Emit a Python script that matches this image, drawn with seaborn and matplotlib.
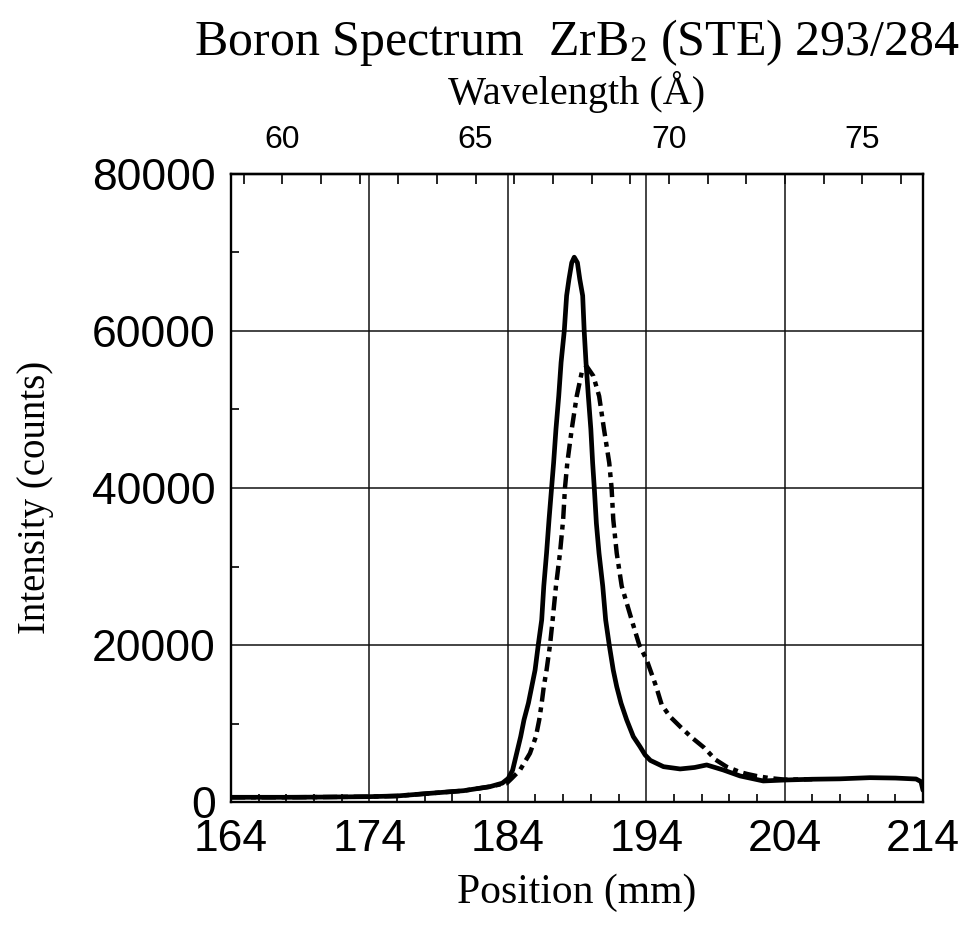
import matplotlib
matplotlib.use("Agg")
import matplotlib.pyplot as plt
import seaborn as sns
import pandas as pd
from matplotlib.ticker import MultipleLocator

# ---------------- data ----------------
solid_pos = [164.0, 166.0, 168.0, 170.0, 172.0, 174.0, 176.0, 178.4, 180.8, 182.7, 183.6,
             184.03, 184.35, 184.64, 184.93, 185.17, 185.49, 185.73, 185.97, 186.2, 186.45,
             186.6, 186.8, 186.98, 187.31, 187.48, 187.68, 187.85, 188.08, 188.25, 188.42,
             188.62, 188.8, 189.03, 189.2, 189.41, 189.52, 189.65, 189.82, 190.0, 190.13,
             190.25, 190.4, 190.59, 190.86, 191.07, 191.33, 191.62, 191.87, 192.18, 192.59,
             193.07, 193.55, 193.92, 194.3, 195.25, 196.45, 197.5, 198.37, 199.57, 200.78,
             202.46, 204.0, 206.0, 208.0, 210.17, 212.0, 213.5, 213.85, 214.0]
solid_int = [600, 600, 600, 620, 650, 680, 770, 1110, 1440, 1950, 2400,
             3000, 4070, 6200, 8330, 10460, 12600, 14700, 16800, 20000, 23200,
             27500, 31700, 36000, 43200, 47500, 51700, 56000, 60000, 64500, 66600,
             68700, 69400, 68700, 66600, 64500, 60000, 56000, 51700, 47500, 43200,
             40000, 35500, 31700, 27500, 23200, 20000, 16800, 14700, 12600, 10460,
             8330, 7060, 6000, 5300, 4500, 4210, 4400, 4720, 4080, 3320,
             2680, 2800, 2900, 2950, 3100, 3050, 2930, 2600, 1500]

dash_pos = [164.0, 166.0, 168.0, 170.0, 172.0, 174.0, 176.0, 178.4, 180.8, 182.7, 183.6,
            183.92, 184.28, 184.88, 185.6, 186.03, 186.27, 186.45, 186.6, 186.8, 187.05,
            187.24, 187.48, 187.77, 188.0, 188.13, 188.3, 188.62, 188.98, 189.34, 189.7,
            190.18, 190.6, 190.95, 191.33, 191.5, 191.62, 191.87, 192.23, 192.95, 193.5,
            194.03, 194.72, 195.12, 195.72, 196.45, 197.3, 198.2, 199.0, 199.8, 200.8,
            201.3, 202.0, 202.9, 204.0, 206.0]
dash_int = [600, 600, 600, 620, 650, 680, 770, 1110, 1440, 1950, 2300,
            2390, 3000, 4070, 6200, 8330, 10460, 12600, 14700, 16800, 20000,
            23200, 27500, 31700, 36000, 40000, 43200, 47500, 51700, 54700, 55500,
            54270, 51700, 47500, 43200, 40000, 36000, 31700, 27500, 23200, 20000,
            18120, 14700, 12380, 10880, 9610, 8200, 6900, 5400, 4500, 3800,
            3570, 3300, 3050, 2850, 2900]

x_ticks = [164, 174, 184, 194, 204, 214]
y_ticks = [0, 20000, 40000, 60000, 80000]
wl_ticks = [60, 65, 70, 75]
MM_PER_ANGSTROM = 2.795

df_solid = pd.DataFrame({"pos": solid_pos, "intensity": solid_int})
df_dash = pd.DataFrame({"pos": dash_pos, "intensity": dash_int})

# ---------------- style ----------------
sns.set_theme(style="white")
plt.rcParams["font.family"] = ["Liberation Sans", "DejaVu Sans"]
plt.rcParams["text.color"] = "black"
plt.rcParams["axes.labelcolor"] = "black"
plt.rcParams["xtick.color"] = "black"
plt.rcParams["ytick.color"] = "black"
plt.rcParams["mathtext.fontset"] = "custom"
plt.rcParams["mathtext.rm"] = "Liberation Serif"
plt.rcParams["mathtext.it"] = "Liberation Serif:italic"
plt.rcParams["mathtext.bf"] = "Liberation Serif:bold"

fig = plt.figure(figsize=(9.71, 9.40), dpi=100)
ax = fig.add_axes([231 / 971, 1 - 802 / 940, (923 - 231) / 971, (802 - 174) / 940])

sns.lineplot(data=df_solid, x="pos", y="intensity", ax=ax, color="black",
             linewidth=3.4, estimator=None, sort=False)
sns.lineplot(data=df_dash, x="pos", y="intensity", ax=ax, color="black",
             linewidth=3.2, estimator=None, sort=False)
ax.lines[-1].set_dashes([3.2, 1.3, 1.1, 1.3])
ax.lines[-1].set_dash_capstyle("butt")
for ln in ax.lines:
    ln.set_solid_joinstyle("round")
    ln.set_clip_on(True)

ax.set_xlim(164, 214)
ax.set_ylim(0, 80000)
ax.set_xticks(x_ticks)
ax.set_yticks(y_ticks)
ax.set_xticklabels([str(t) for t in x_ticks])
ax.set_yticklabels([str(t) for t in y_ticks])
ax.xaxis.set_minor_locator(MultipleLocator(2))
ax.yaxis.set_minor_locator(MultipleLocator(10000))
ax.set_xlabel("")
ax.set_ylabel("")

ax.grid(True, which="major", color="#111111", linewidth=1.1)
ax.set_axisbelow(True)
for s in ax.spines.values():
    s.set_visible(True)
    s.set_color("black")
    s.set_linewidth(1.7)

ax.tick_params(axis="both", which="major", direction="in", length=0,
               labelsize=32, colors="black")
ax.tick_params(axis="x", which="major", pad=12)
ax.tick_params(axis="y", which="major", pad=11)
ax.tick_params(axis="both", which="minor", direction="in", length=5.5,
               width=1.2, color="black")
ax.tick_params(axis="x", which="both", top=False, bottom=True)
ax.tick_params(axis="y", which="both", left=True, right=False)

sec = ax.secondary_xaxis("top", functions=(lambda x: x / MM_PER_ANGSTROM,
                                           lambda w: w * MM_PER_ANGSTROM))
sec.set_xticks(wl_ticks)
sec.set_xticklabels([str(t) for t in wl_ticks])
sec.xaxis.set_minor_locator(MultipleLocator(1))
sec.tick_params(axis="x", which="major", direction="in", length=7, width=1.2,
                labelsize=23, pad=14, colors="black")
sec.tick_params(axis="x", which="minor", direction="in", length=7, width=1.2)
sec.spines["top"].set_linewidth(1.7)

serif = ["Liberation Serif", "DejaVu Serif"]
fig.text(577 / 971, 1 - 42 / 940, r"Boron Spectrum  ZrB$_2$ (STE) 293/284",
         ha="center", va="center", fontsize=36, family=serif, color="black")
fig.text(577 / 971, 1 - 92 / 940, "Wavelength (Å)", ha="center", va="center",
         fontsize=29, family=serif, color="black")
fig.text(577 / 971, 1 - 893 / 940, "Position (mm)", ha="center", va="center",
         fontsize=30, family=serif, color="black")
fig.text(35 / 971, 1 - 497 / 940, "Intensity (counts)", ha="center", va="center",
         fontsize=28, family=serif, rotation=90, color="black")

fig.savefig("out.png", dpi=100, facecolor="white")
